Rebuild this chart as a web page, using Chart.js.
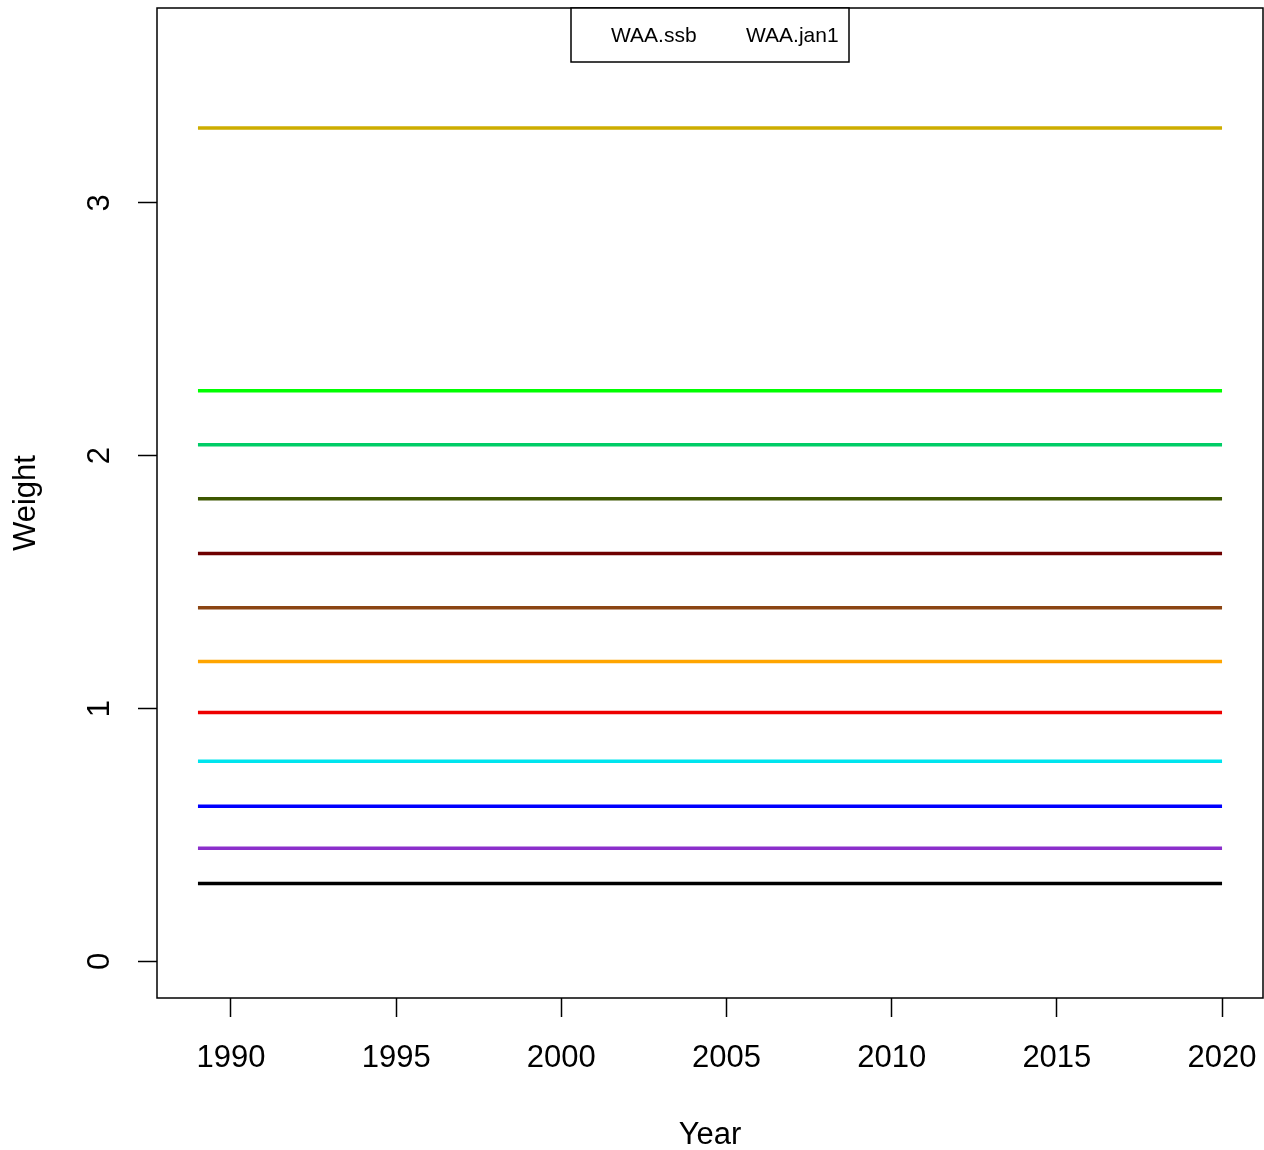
<!DOCTYPE html>
<html>
<head>
<meta charset="utf-8">
<script src="https://cdn.jsdelivr.net/npm/chart.js@4"></script>
<style>
  html, body { margin: 0; padding: 0; background: #fff; }
  #wrap { width: 1264px; height: 1150px; }
</style>
</head>
<body>
<div id="wrap"><canvas id="waa-chart"></canvas></div>
<script>
// years 1989..2020
const years = [1989,1990,1991,1992,1993,1994,1995,1996,1997,1998,1999,2000,2001,2002,2003,2004,
               2005,2006,2007,2008,2009,2010,2011,2012,2013,2014,2015,2016,2017,2018,2019,2020];
// weight at age (constant over years), ages 1..12
const ageWeights = [0.308, 0.447, 0.613, 0.791, 0.984, 1.186, 1.399, 1.613, 1.830, 2.043, 2.257, 3.296];
const ageColors = ['#000000','#8B2FCB','#0000FF','#00E5EE','#EE0000','#FFA500',
                   '#8B4513','#6E0000','#3D5700','#00CD66','#00FF00','#CDAD00'];
const legendLabels = ['WAA.ssb', 'WAA.jan1'];
const xTicks = [1990, 1995, 2000, 2005, 2010, 2015, 2020];
const yTicks = [0, 1, 2, 3];

const font = 'Liberation Sans, Arial, Helvetica, sans-serif';

const datasets = ageWeights.map((w, i) => ({
  label: 'age ' + (i + 1),
  data: years.map(y => ({ x: y, y: w })),
  borderColor: ageColors[i],
  borderWidth: 3.5,
  pointRadius: 0,
  fill: false
}));

// box, rotated y labels, legend
const rStyle = {
  id: 'rStyle',
  afterDraw(chart) {
    const c = chart.ctx, a = chart.chartArea;
    c.save();
    c.strokeStyle = '#000';
    c.lineWidth = 1.5;
    c.strokeRect(a.left, a.top, a.right - a.left, a.bottom - a.top);

    // y tick labels, rotated like R
    const ys = chart.scales.y;
    c.fillStyle = '#000';
    c.font = '31px ' + font;
    c.textAlign = 'center';
    c.textBaseline = 'middle';
    yTicks.forEach(v => {
      c.save();
      c.translate(100, ys.getPixelForValue(v));
      c.rotate(-Math.PI / 2);
      c.fillText(String(v), 0, 0);
      c.restore();
    });

    // legend
    const lx = 571, ly = a.top, lw = 278, lh = 54;
    c.fillStyle = '#fff';
    c.fillRect(lx, ly, lw, lh);
    c.strokeRect(lx, ly, lw, lh);
    c.fillStyle = '#000';
    c.font = '21px ' + font;
    c.textAlign = 'left';
    c.fillText(legendLabels[0], 611, ly + 28);
    c.fillText(legendLabels[1], 746, ly + 28);
    c.restore();
  }
};

new Chart(document.getElementById('waa-chart').getContext('2d'), {
  type: 'line',
  data: { datasets: datasets },
  options: {
    responsive: true,
    maintainAspectRatio: false,
    animation: false,
    layout: { padding: { top: 8, right: 1, left: 0, bottom: 0 } },
    plugins: { legend: { display: false }, tooltip: { enabled: false } },
    scales: {
      x: {
        type: 'linear',
        min: 1987.76,
        max: 2021.24,
        afterFit: s => { s.height = 152; s.paddingLeft = 0; s.paddingRight = 0; },
        afterBuildTicks: s => { s.ticks = xTicks.map(v => ({ value: v })); },
        grid: { drawOnChartArea: false, tickLength: 19, tickColor: '#000', tickWidth: 1.5 },
        border: { display: false },
        ticks: { color: '#000', font: { family: font, size: 31 }, padding: 23, maxRotation: 0,
                 callback: v => String(v) },
        title: { display: true, text: 'Year', color: '#000', font: { family: font, size: 31 },
                 padding: { top: 0, bottom: -4 } }
      },
      y: {
        min: -0.145,
        max: 3.771,
        afterFit: s => { s.width = 157; s.paddingTop = 0; s.paddingBottom = 0; },
        afterBuildTicks: s => { s.ticks = yTicks.map(v => ({ value: v })); },
        grid: { drawOnChartArea: false, tickLength: 19, tickColor: '#000', tickWidth: 1.5 },
        border: { display: false },
        ticks: { display: false },
        title: { display: true, text: 'Weight', color: '#000', font: { family: font, size: 31 },
                 padding: { top: 8, bottom: 0 } }
      }
    }
  },
  plugins: [rStyle]
});
</script>
</body>
</html>
